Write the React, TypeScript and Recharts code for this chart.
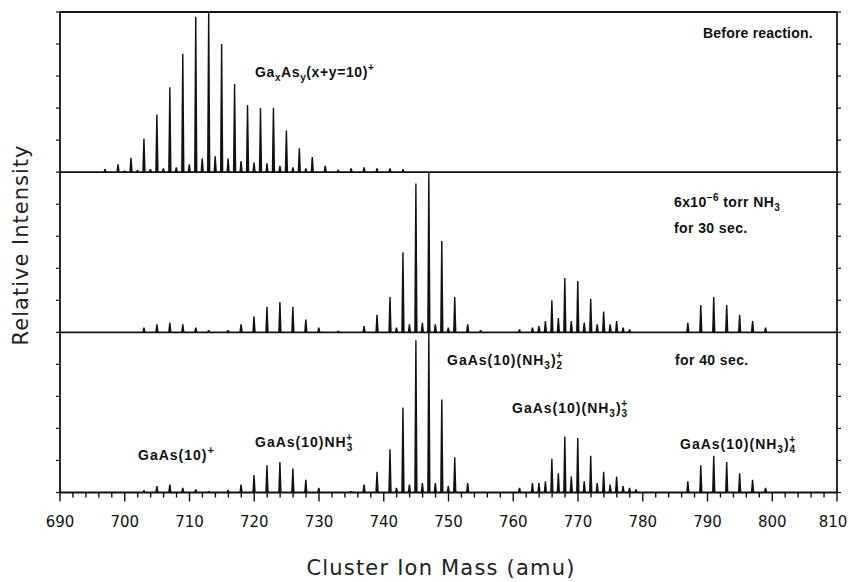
import React from "react";
import { ComposedChart, Bar, XAxis, YAxis, ReferenceLine } from "recharts";

// ---- Data (relative intensity, % of each panel's full height) ----
const beforeMass = [697, 699, 700, 701, 702, 703, 704, 705, 706, 707, 708, 709, 710, 711, 712, 713, 714, 715, 716, 717, 718, 719, 720, 721, 722, 723, 724, 725, 726, 727, 728, 729, 731, 733, 735, 737, 739, 741, 743];
const beforeInt = [2, 5, 1, 9, 1.5, 21, 2, 36, 2.5, 53, 3, 74, 5, 97, 8.5, 100, 10, 80, 8.5, 55, 7, 42, 6, 40, 5.5, 40, 4, 26, 3, 15, 2.5, 9.5, 4, 1.5, 2.5, 3, 2.5, 2.5, 2];

const sec30Mass = [703, 705, 707, 709, 711, 713, 716, 718, 720, 722, 724, 726, 728, 730, 733, 737, 739, 741, 742, 743, 744, 745, 746, 747, 748, 749, 750, 751, 753, 755, 761, 763, 764, 765, 766, 767, 768, 769, 770, 771, 772, 773, 774, 775, 776, 777, 778, 787, 789, 791, 793, 795, 797, 799];
const sec30Int = [3, 5, 6, 5, 3, 1.5, 1.5, 5, 10, 16, 19, 16, 8, 3, 1, 4, 11, 22, 3, 50, 5, 93, 6, 100, 5, 57, 3, 22, 5, 1.5, 2, 3, 4, 7, 20, 9, 34, 7, 32, 6, 21, 5, 13, 5, 7, 3, 2, 6, 17, 22, 17, 11, 7, 3];

const sec40Mass = [703, 705, 707, 709, 711, 713, 716, 718, 720, 722, 724, 726, 728, 730, 735, 737, 739, 741, 742, 743, 744, 745, 746, 747, 748, 749, 750, 751, 753, 761, 763, 764, 765, 766, 767, 768, 769, 770, 771, 772, 773, 774, 775, 776, 777, 778, 779, 787, 789, 791, 793, 795, 797, 799];
const sec40Int = [1.5, 4, 5, 3, 2, 1, 1.5, 5, 11, 17, 19, 15, 8, 3, 1, 5, 13, 27, 3, 53, 5, 95, 6, 100, 6, 58, 4, 22, 6, 3, 6, 6, 7, 21, 12, 35, 10, 34, 7, 23, 6, 13, 5, 10, 4, 3, 2, 7, 17, 23, 19, 12, 8, 3];

const xTicks = [690, 692, 694, 696, 698, 700, 702, 704, 706, 708, 710, 712, 714, 716, 718, 720, 722, 724, 726, 728, 730, 732, 734, 736, 738, 740, 742, 744, 746, 748, 750, 752, 754, 756, 758, 760, 762, 764, 766, 768, 770, 772, 774, 776, 778, 780, 782, 784, 786, 788, 790, 792, 794, 796, 798, 800, 802, 804, 806, 808, 810];
const xTickLabels = [690, 700, 710, 720, 730, 740, 750, 760, 770, 780, 790, 800, 810];
const yTicks = [0, 20, 40, 60, 80, 100, 120, 140, 160, 180, 200, 220, 240, 260, 280, 300];

// panel base offsets (each panel spans 100 units)
const panelBase = { before: 200, sec30: 100, sec40: 0 };

function buildRows() {
  const map = new Map<number, any>();
  const add = (masses: number[], ints: number[], key: string, base: number) => {
    masses.forEach((m, i) => {
      const row = map.get(m) ?? { mass: m };
      row[key] = [base, base + ints[i]];
      map.set(m, row);
    });
  };
  add(beforeMass, beforeInt, "before", panelBase.before);
  add(sec30Mass, sec30Int, "sec30", panelBase.sec30);
  add(sec40Mass, sec40Int, "sec40", panelBase.sec40);
  return Array.from(map.values()).sort((a, b) => a.mass - b.mass);
}
const rows = buildRows();

const INK = "#111";

const Peak = (props: any) => {
  const { x, y, width, height } = props;
  if (![x, y, width, height].every((v) => Number.isFinite(v)) || height <= 0) return null;
  const cx = x + width / 2;
  const b = y + height;
  return (
    <path
      d={`M${cx - 1.7},${b} L${cx - 0.7},${y} L${cx + 0.7},${y} L${cx + 1.7},${b} Z`}
      fill={INK}
    />
  );
};

const XTick = (props: any) => {
  const { x, y, payload } = props;
  const v = payload.value;
  const major = xTickLabels.includes(v);
  const labelX = v === 810 ? x - 4 : x;
  return (
    <g>
      <line x1={x} x2={x} y1={y} y2={y + (major ? 9 : 5)} stroke={INK} strokeWidth={1.4} />
      {major && (
        <text
          x={labelX}
          y={y + 34}
          textAnchor="middle"
          fontFamily="DejaVu Sans"
          fontSize={15}
          fill={INK}
        >
          {v}
        </text>
      )}
    </g>
  );
};

const labelFont = { fontFamily: "Liberation Sans", fontWeight: 700 as const, fontSize: 14, fill: INK };

const Overlay = () => (
  <svg
    width={849}
    height={582}
    style={{ position: "absolute", left: 0, top: 0, pointerEvents: "none" }}
  >
    {/* Axis titles */}
    <text
      x={441}
      y={575}
      textAnchor="middle"
      fontFamily="DejaVu Sans"
      fontSize={21}
      letterSpacing={1.2}
      fill="#222"
    >
      Cluster Ion Mass (amu)
    </text>
    <text
      transform="translate(28,245) rotate(-90)"
      textAnchor="middle"
      fontFamily="DejaVu Sans"
      fontSize={21}
      letterSpacing={1}
      fill="#222"
    >
      Relative Intensity
    </text>

    {/* Panel 1 */}
    <text x={703} y={38} {...labelFont} letterSpacing={0.2}>Before reaction.</text>
    <text x={255} y={77} {...labelFont} letterSpacing={0.6}>
      Ga<tspan dy={4} fontSize={10}>x</tspan>
      <tspan dy={-4}>As</tspan>
      <tspan dy={4} fontSize={10}>y</tspan>
      <tspan dy={-4}>(x+y=10)</tspan>
      <tspan dy={-6} fontSize={10}>+</tspan>
    </text>

    {/* Panel 2 */}
    <text x={674} y={207} {...labelFont} letterSpacing={0.4}>
      6x10<tspan dy={-6} fontSize={10}>−6</tspan>
      <tspan dy={6}> torr NH</tspan>
      <tspan dy={4} fontSize={10}>3</tspan>
    </text>
    <text x={674} y={233} {...labelFont} letterSpacing={0.4}>for 30 sec.</text>

    {/* Panel 3 */}
    <text x={675} y={365} {...labelFont} letterSpacing={0.4}>for 40 sec.</text>
    <text x={447} y={365} {...labelFont} letterSpacing={1}>
      GaAs(10)(NH<tspan dy={4} fontSize={10}>3</tspan>
      <tspan dy={-4}>)</tspan>
      <tspan dy={4} fontSize={10}>2</tspan>
      <tspan dx={-7} dy={-10} fontSize={10}>+</tspan>
    </text>
    <text x={512} y={413} {...labelFont} letterSpacing={1}>
      GaAs(10)(NH<tspan dy={4} fontSize={10}>3</tspan>
      <tspan dy={-4}>)</tspan>
      <tspan dy={4} fontSize={10}>3</tspan>
      <tspan dx={-7} dy={-10} fontSize={10}>+</tspan>
    </text>
    <text x={680} y={449} {...labelFont} letterSpacing={1}>
      GaAs(10)(NH<tspan dy={4} fontSize={10}>3</tspan>
      <tspan dy={-4}>)</tspan>
      <tspan dy={4} fontSize={10}>4</tspan>
      <tspan dx={-7} dy={-10} fontSize={10}>+</tspan>
    </text>
    <text x={138} y={460} {...labelFont} letterSpacing={1}>
      GaAs(10)<tspan dy={-6} fontSize={11}>+</tspan>
    </text>
    <text x={255} y={447} {...labelFont} letterSpacing={1}>
      GaAs(10)NH<tspan dy={4} fontSize={10}>3</tspan>
      <tspan dx={-7} dy={-10} fontSize={10}>+</tspan>
    </text>
  </svg>
);

export default function App() {
  return (
    <div
      style={{
        position: "absolute",
        left: 0,
        top: 0,
        width: 849,
        height: 582,
        background: "#fff",
        overflow: "hidden",
      }}
    >
      <ComposedChart
        width={849}
        height={582}
        data={rows}
        margin={{ top: 12, right: 11, bottom: 59.5, left: 59 }}
        barGap={-2}
      >
        <XAxis
          dataKey="mass"
          type="number"
          domain={[690, 810]}
          allowDataOverflow
          ticks={xTicks}
          interval={0}
          tickSize={0}
          tickMargin={0}
          tickLine={false}
          tick={<XTick />}
          height={30}
          axisLine={{ stroke: INK, strokeWidth: 1.8 }}
        />
        <YAxis
          yAxisId="left"
          type="number"
          domain={[0, 300]}
          allowDataOverflow
          ticks={yTicks}
          interval={0}
          width={1}
          tickSize={4}
          tickMargin={0}
          tickFormatter={() => ""}
          tickLine={{ stroke: INK, strokeWidth: 1.2 }}
          axisLine={{ stroke: INK, strokeWidth: 1.8 }}
        />
        <YAxis
          yAxisId="right"
          orientation="right"
          type="number"
          domain={[0, 300]}
          allowDataOverflow
          ticks={yTicks}
          interval={0}
          width={1}
          tickSize={4}
          tickMargin={0}
          tickFormatter={() => ""}
          tickLine={{ stroke: INK, strokeWidth: 1.2 }}
          axisLine={{ stroke: INK, strokeWidth: 1.8 }}
        />
        <ReferenceLine yAxisId="left" y={100} stroke={INK} strokeWidth={1.8} />
        <ReferenceLine yAxisId="left" y={200} stroke={INK} strokeWidth={1.8} />
        <ReferenceLine yAxisId="left" y={300} stroke={INK} strokeWidth={1.8} />
        <Bar yAxisId="left" dataKey="sec40" barSize={2} shape={<Peak />} isAnimationActive={false} />
        <Bar yAxisId="left" dataKey="sec30" barSize={2} shape={<Peak />} isAnimationActive={false} />
        <Bar yAxisId="left" dataKey="before" barSize={2} shape={<Peak />} isAnimationActive={false} />
      </ComposedChart>
      <Overlay />
    </div>
  );
}
